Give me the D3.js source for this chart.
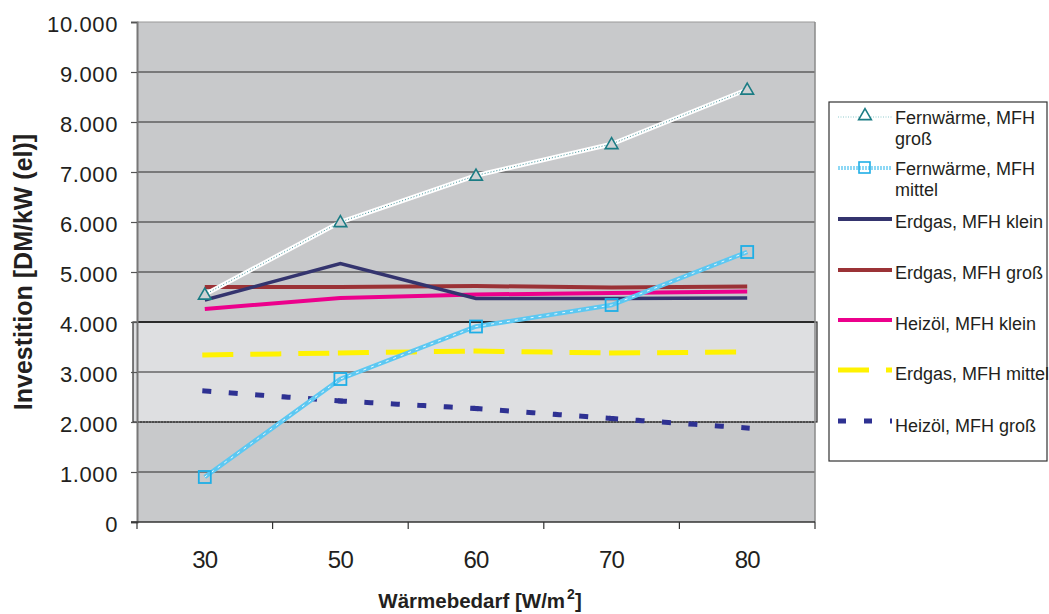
<!DOCTYPE html>
<html><head><meta charset="utf-8">
<script src="https://cdn.jsdelivr.net/npm/d3@7"></script>
<style>body{margin:0;background:#fff}svg{display:block}text{font-family:"Liberation Sans",Arial,sans-serif;fill:#231f20}</style>
</head><body><svg id="c" width="1049" height="614"></svg>
<script>
const categories = ["30","50","60","70","80"];
const fwGross   = [4550, 6000, 6930, 7560, 8650];
const fwMittel  = [900, 2860, 3910, 4340, 5400];
const egKlein   = [4440, 5170, 4470, 4470, 4480];
const egGross   = [4700, 4700, 4720, 4690, 4710];
const hoKlein   = [4260, 4480, 4550, 4580, 4610];
const egMittel  = [3340, 3380, 3420, 3380, 3400];
const hoGross   = [2620, 2420, 2270, 2070, 1880];
const yTicks = [0,1000,2000,3000,4000,5000,6000,7000,8000,9000,10000];
const seriesNames = ["Fernwärme, MFH groß","Fernwärme, MFH mittel","Erdgas, MFH klein","Erdgas, MFH groß","Heizöl, MFH klein","Erdgas, MFH mittel","Heizöl, MFH groß"];

const svg = d3.select("#c");
const L=137,R=815,T=22,B=522;
const x = d3.scaleBand().domain(categories).range([L,R]);
const y = d3.scaleLinear().domain([0,10000]).range([B,T]);
const fmt = v => v===0 ? "0" : d3.format(",")(v).replace(/,/g,".");

// plot background
svg.append("rect").attr("x",L).attr("y",T).attr("width",R-L).attr("height",B-T).attr("fill","#c8c9cb");
// light band 2000-4000
svg.append("rect").attr("x",133).attr("y",y(4000)).attr("width",R+2-133).attr("height",y(2000)-y(4000))
  .attr("fill","#dedfe1").attr("stroke","#2a2a2a").attr("stroke-width",1.2);
// gridlines
svg.append("g").selectAll("line").data(yTicks.filter(d=>d>0)).join("line")
  .attr("x1",L).attr("x2",R).attr("y1",d=>y(d)).attr("y2",d=>y(d))
  .attr("stroke",d=>d===10000?"#9a9a9a":"#2b2b2b").attr("stroke-width",d=>d===4000?2:1.2)
  .attr("stroke-dasharray",d=>d===2000?"2,1":null);
// right border
svg.append("line").attr("x1",R).attr("x2",R).attr("y1",T).attr("y2",B).attr("stroke","#8a8a8a").attr("stroke-width",1.5);

// axes
const yAxis = d3.axisLeft(y).tickValues(yTicks).tickFormat(fmt).tickSize(6).tickPadding(13);
const gy = svg.append("g").attr("transform",`translate(${L},0)`).call(yAxis);
gy.selectAll("text").style("font-size","22px").style("letter-spacing","0.6px")
  .style("font-family","Liberation Sans, Arial, sans-serif").attr("fill","#231f20").attr("dy","0.45em");
gy.selectAll("line,path").attr("stroke","#555").attr("stroke-width",1.2);
gy.select("path").attr("stroke","#777").attr("stroke-width",2);

const xTickScale = d3.scaleLinear().domain([0,5]).range([L,R]);
svg.append("line").attr("x1",L-6).attr("x2",R).attr("y1",B).attr("y2",B).attr("stroke","#333").attr("stroke-width",1.3);
svg.append("g").selectAll("line").data(d3.range(6)).join("line")
  .attr("x1",d=>xTickScale(d)).attr("x2",d=>xTickScale(d)).attr("y1",B).attr("y2",B+7).attr("stroke","#333").attr("stroke-width",1.2);
const xAxis = d3.axisBottom(x).tickSize(0);
const gx = svg.append("g").attr("transform",`translate(0,${B})`).call(xAxis);
gx.select("path").remove();
gx.selectAll("text").attr("y",46).attr("dy",0).style("font-size","24px").style("letter-spacing","-0.8px")
  .style("font-family","Liberation Sans, Arial, sans-serif").attr("fill","#231f20");

// axis titles
const xt = svg.append("text").attr("x",480).attr("y",608).attr("text-anchor","middle")
  .style("font-size","20.5px").style("font-weight","bold");
xt.append("tspan").text("Wärmebedarf [W/m");
xt.append("tspan").text("2").attr("dy",-9).attr("dx",2).style("font-size","14px");
xt.append("tspan").text("]").attr("dy",9);
svg.append("text").attr("transform","translate(32,272) rotate(-90)").attr("text-anchor","middle")
  .style("font-size","25px").style("font-weight","bold").text("Investition [DM/kW (el)]");

const cx = c => x(c)+x.bandwidth()/2;
const line = d3.line().x((d,i)=>cx(categories[i])).y(d=>y(d));
const segLine = d3.line().x(d=>cx(d.c)).y(d=>y(d.v));
const g = svg.append("g");
function path(data, stroke, w, dash){
  return g.append("path").datum(data).attr("d",line).attr("fill","none").attr("stroke",stroke)
    .attr("stroke-width",w).attr("stroke-dasharray",dash||null);
}
// dashed series: dash pattern restarts per segment (as in the original)
function segPath(data, stroke, w, dash){
  const segs = d3.pairs(data.map((v,i)=>({c:categories[i],v})));
  g.append("g").selectAll("path").data(segs).join("path").attr("d",segLine)
    .attr("fill","none").attr("stroke",stroke).attr("stroke-width",w)
    .attr("stroke-linecap","square").attr("stroke-dasharray",dash);
}
segPath(hoGross,"#2e3192",5,"4,22.5");
segPath(egMittel,"#fff200",5,"26,22");
path(hoKlein,"#ec008c",4);
path(egGross,"#9b3236",4);
path(egKlein,"#34346e",3.5);
// Fernwärme mittel
path(fwMittel,"#5cc8f2",4.5);
path(fwMittel,"#e8f7fd",1,"3,5");
g.selectAll(".sq").data(fwMittel).join("rect").attr("class","sq")
  .attr("x",(d,i)=>cx(categories[i])-6).attr("y",d=>y(d)-6).attr("width",12).attr("height",12)
  .attr("fill","none").attr("stroke","#1eaee6").attr("stroke-width",1.8);
// Fernwärme groß
path(fwGross,"#ffffff",4.5);
path(fwGross,"#3a8f96",1,"1,2");
const tri = d3.symbol().type(d3.symbolTriangle).size(70);
g.selectAll(".tri").data(fwGross).join("path").attr("class","tri")
  .attr("transform",(d,i)=>`translate(${cx(categories[i])},${y(d)+1})`).attr("d",tri)
  .attr("fill","#cfd2d4").attr("stroke","#1b7c84").attr("stroke-width",1.6);

// legend
const lg = svg.append("g");
lg.append("rect").attr("x",829).attr("y",102).attr("width",218).attr("height",359).attr("fill","#fff").attr("stroke","#333").attr("stroke-width",1.2);
const lx1=838,lx2=892,tx=895;
const items = [
 {n:seriesNames[0],ly:117,ty:[124,145]},
 {n:seriesNames[1],ly:168,ty:[175,196]},
 {n:seriesNames[2],ly:219,ty:[228]},
 {n:seriesNames[3],ly:270,ty:[279]},
 {n:seriesNames[4],ly:320,ty:[330]},
 {n:seriesNames[5],ly:370,ty:[380]},
 {n:seriesNames[6],ly:421,ty:[432]}
];
function lline(yv,stroke,w,dash){lg.append("line").attr("x1",lx1).attr("x2",lx2).attr("y1",yv).attr("y2",yv).attr("stroke",stroke).attr("stroke-width",w).attr("stroke-dasharray",dash||null);}
lline(items[0].ly,"#8fc9cc",1,"1,1.5");
lg.append("path").attr("transform",`translate(865,${items[0].ly-1})`).attr("d",tri).attr("fill","#fff").attr("stroke","#1b7c84").attr("stroke-width",1.6);
lline(items[1].ly,"#8ed8f5",4,"2,1");
lg.append("rect").attr("x",859).attr("y",items[1].ly-6).attr("width",11).attr("height",11).attr("fill","none").attr("stroke","#1eaee6").attr("stroke-width",1.6);
lline(items[2].ly,"#34346e",4);
lline(items[3].ly,"#9b3236",4);
lline(items[4].ly,"#ec008c",4);
lline(items[5].ly,"#fff200",5,"31,17");
lline(items[6].ly,"#2e3192",5,"8,18");
items.forEach((it,i)=>{
  const parts = it.ty.length===2 ? [it.n.replace(/ (\S+)$/,""), it.n.match(/(\S+)$/)[1]] : [it.n];
  parts.forEach((p,j)=>lg.append("text").attr("x",tx).attr("y",it.ty[j]).style("font-size","18px").text(p));
});
</script></body></html>
